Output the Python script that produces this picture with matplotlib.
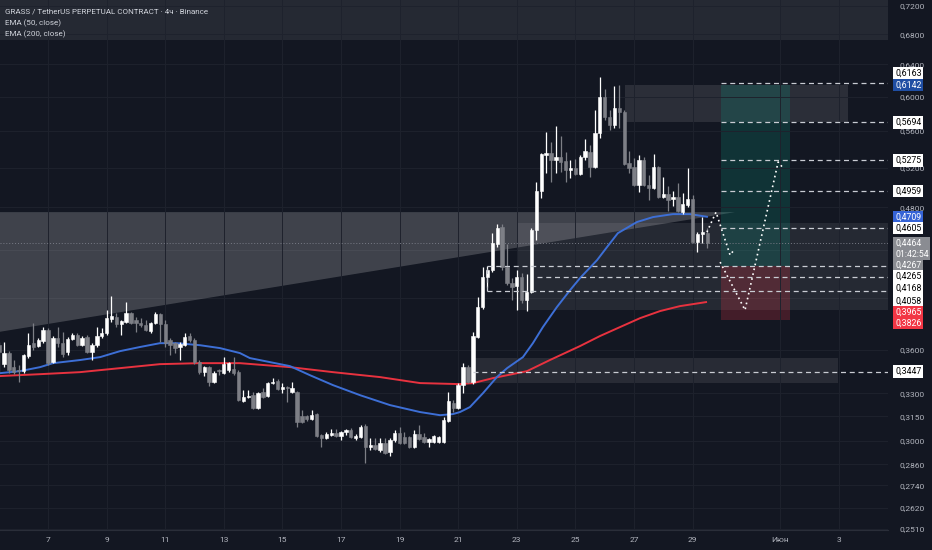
import numpy as np
import matplotlib
matplotlib.use('Agg')
import matplotlib.pyplot as plt
from matplotlib.patches import Rectangle, Polygon
from matplotlib.ticker import FixedLocator, FixedFormatter, NullLocator

plt.rcParams['font.family'] = ['Roboto', 'DejaVu Sans']

# --- candles, 4h, first one May 5 08:00 (x axis = day of May) ---
opens = [0.3635, 0.3499, 0.3578, 0.3478, 0.3457, 0.3450, 0.3556, 0.3650, 0.3629, 0.3665,
         0.3748, 0.3513, 0.3688, 0.3650, 0.3585, 0.3680, 0.3710, 0.3635, 0.3695, 0.3585,
         0.3635, 0.3703, 0.3725, 0.3832, 0.3847, 0.3793, 0.3808, 0.3878, 0.3824, 0.3800,
         0.3785, 0.3740, 0.3800, 0.3870, 0.3793, 0.3673, 0.3650, 0.3622, 0.3635, 0.3703,
         0.3673, 0.3513, 0.3443, 0.3478, 0.3375, 0.3457, 0.3436, 0.3457, 0.3464, 0.3443,
         0.3248, 0.3274, 0.3287, 0.3203, 0.3308, 0.3281, 0.3368, 0.3381, 0.3328, 0.3341,
         0.3308, 0.3308, 0.3151, 0.3151, 0.3132, 0.3164, 0.3033, 0.3015, 0.3033, 0.3045,
         0.3027, 0.3051, 0.3064, 0.3015, 0.3021, 0.3088, 0.2960, 0.2972, 0.2942, 0.2984,
         0.2930, 0.3002, 0.3045, 0.3021, 0.3021, 0.2960, 0.3039, 0.3021, 0.2990, 0.2990,
         0.2990, 0.2990, 0.3120, 0.3235, 0.3203, 0.3354, 0.3478, 0.3375, 0.3695, 0.3926,
         0.4170, 0.4229, 0.4457, 0.4612, 0.4255, 0.4120, 0.4095, 0.4170, 0.3981, 0.4046,
         0.4584, 0.4960, 0.5332, 0.5354, 0.5279, 0.5311, 0.5268, 0.5174, 0.5195, 0.5132,
         0.5311, 0.5365, 0.5205, 0.5574, 0.5994, 0.5757, 0.5665, 0.5862, 0.5815, 0.5247,
         0.5205, 0.5019, 0.5279, 0.5019, 0.4989, 0.5205, 0.4900, 0.4929, 0.4880, 0.4900,
         0.4753, 0.4821, 0.4880, 0.4475, 0.4548, 0.4557]
highs = [0.3658, 0.3658, 0.3592, 0.3528, 0.3492, 0.3570, 0.3725, 0.3800, 0.3688, 0.3770,
         0.3763, 0.3703, 0.3770, 0.3732, 0.3695, 0.3725, 0.3725, 0.3703, 0.3710, 0.3650,
         0.3770, 0.3763, 0.3902, 0.4014, 0.3878, 0.3824, 0.3965, 0.3886, 0.3847, 0.3839,
         0.3824, 0.3808, 0.3886, 0.3878, 0.3824, 0.3688, 0.3658, 0.3658, 0.3725, 0.3725,
         0.3688, 0.3528, 0.3485, 0.3485, 0.3450, 0.3464, 0.3549, 0.3513, 0.3549, 0.3457,
         0.3321, 0.3321, 0.3308, 0.3308, 0.3334, 0.3375, 0.3402, 0.3395, 0.3368, 0.3348,
         0.3375, 0.3314, 0.3190, 0.3158, 0.3190, 0.3170, 0.3039, 0.3051, 0.3070, 0.3070,
         0.3057, 0.3070, 0.3076, 0.3039, 0.3095, 0.3101, 0.3015, 0.3015, 0.3015, 0.3015,
         0.3015, 0.3064, 0.3082, 0.3051, 0.3027, 0.3064, 0.3095, 0.3045, 0.3015, 0.3033,
         0.3027, 0.3145, 0.3308, 0.3254, 0.3368, 0.3506, 0.3492, 0.3732, 0.4005, 0.4255,
         0.4264, 0.4556, 0.4640, 0.4640, 0.4457, 0.4162, 0.4229, 0.4203, 0.4195, 0.4603,
         0.5050, 0.5354, 0.5585, 0.5473, 0.5653, 0.5541, 0.5365, 0.5279, 0.5290, 0.5332,
         0.5507, 0.5440, 0.5839, 0.6240, 0.6091, 0.5839, 0.6128, 0.6139, 0.5839, 0.5376,
         0.5300, 0.5332, 0.5311, 0.5122, 0.5343, 0.5216, 0.5101, 0.5010, 0.4959, 0.5040,
         0.4939, 0.5195, 0.4919, 0.4566, 0.4706, 0.4603]
lows = [0.3436, 0.3478, 0.3436, 0.3429, 0.3375, 0.3436, 0.3542, 0.3600, 0.3622, 0.3650,
        0.3492, 0.3506, 0.3622, 0.3549, 0.3563, 0.3673, 0.3629, 0.3629, 0.3578, 0.3528,
        0.3622, 0.3688, 0.3710, 0.3808, 0.3770, 0.3710, 0.3800, 0.3793, 0.3732, 0.3770,
        0.3740, 0.3725, 0.3793, 0.3658, 0.3622, 0.3563, 0.3578, 0.3528, 0.3629, 0.3658,
        0.3499, 0.3429, 0.3416, 0.3348, 0.3368, 0.3422, 0.3429, 0.3443, 0.3422, 0.3248,
        0.3241, 0.3268, 0.3196, 0.3196, 0.3268, 0.3274, 0.3361, 0.3321, 0.3301, 0.3241,
        0.3301, 0.3082, 0.3107, 0.3120, 0.3126, 0.3021, 0.2960, 0.3009, 0.3027, 0.3021,
        0.3002, 0.3033, 0.3015, 0.3002, 0.3015, 0.2866, 0.2942, 0.2942, 0.2930, 0.2918,
        0.2907, 0.2990, 0.2978, 0.2978, 0.2954, 0.2954, 0.3002, 0.2984, 0.2960, 0.2984,
        0.2984, 0.2984, 0.3114, 0.3177, 0.3196, 0.3301, 0.3368, 0.3361, 0.3688, 0.3910,
        0.4087, 0.4212, 0.4430, 0.4229, 0.4103, 0.3981, 0.3902, 0.3957, 0.3894, 0.4038,
        0.4493, 0.4890, 0.5142, 0.5050, 0.5142, 0.5153, 0.5050, 0.5091, 0.5122, 0.5122,
        0.5279, 0.5101, 0.5195, 0.5518, 0.5722, 0.5608, 0.5631, 0.5631, 0.5225, 0.5142,
        0.5010, 0.4949, 0.5010, 0.4870, 0.4979, 0.4890, 0.4890, 0.4763, 0.4812, 0.4753,
        0.4734, 0.4802, 0.4466, 0.4386, 0.4466, 0.4421]
closes = [0.3585, 0.3578, 0.3457, 0.3443, 0.3450, 0.3563, 0.3635, 0.3622, 0.3673, 0.3748,
          0.3506, 0.3688, 0.3650, 0.3570, 0.3680, 0.3710, 0.3635, 0.3688, 0.3585, 0.3635,
          0.3703, 0.3725, 0.3839, 0.3855, 0.3793, 0.3816, 0.3878, 0.3800, 0.3800, 0.3785,
          0.3748, 0.3800, 0.3870, 0.3793, 0.3650, 0.3635, 0.3614, 0.3643, 0.3695, 0.3673,
          0.3513, 0.3443, 0.3478, 0.3375, 0.3436, 0.3450, 0.3499, 0.3506, 0.3436, 0.3254,
          0.3274, 0.3281, 0.3203, 0.3301, 0.3274, 0.3368, 0.3375, 0.3328, 0.3341, 0.3334,
          0.3334, 0.3114, 0.3114, 0.3132, 0.3158, 0.3027, 0.3015, 0.3039, 0.3045, 0.3027,
          0.3051, 0.3064, 0.3021, 0.3027, 0.3082, 0.2960, 0.2972, 0.2948, 0.2984, 0.2924,
          0.3002, 0.3045, 0.2984, 0.2984, 0.2960, 0.3039, 0.3009, 0.2990, 0.3009, 0.3027,
          0.3021, 0.3126, 0.3248, 0.3203, 0.3354, 0.3478, 0.3375, 0.3703, 0.3926, 0.4170,
          0.4229, 0.4466, 0.4603, 0.4255, 0.4120, 0.4087, 0.4170, 0.3981, 0.4046, 0.4584,
          0.4960, 0.5343, 0.5354, 0.5279, 0.5311, 0.5257, 0.5174, 0.5195, 0.5132, 0.5311,
          0.5376, 0.5205, 0.5574, 0.5994, 0.5757, 0.5665, 0.5862, 0.5815, 0.5236, 0.5195,
          0.5019, 0.5279, 0.5019, 0.4989, 0.5205, 0.4900, 0.4929, 0.4870, 0.4900, 0.4763,
          0.4831, 0.4880, 0.4475, 0.4548, 0.4566, 0.4464]

# EMA lines (day of May, price)
ema50_days = [5.36, 6.04, 6.73, 7.17, 8.09, 8.78, 9.46, 10.14, 10.82, 11.40, 12.19, 12.87,
              13.55, 13.89, 15.26, 15.94, 16.73, 17.65, 18.67, 19.70, 20.38, 20.82, 21.06,
              21.40, 21.85, 22.32, 22.67, 23.21, 23.55, 23.89, 24.37, 24.82, 25.16, 25.74,
              26.08, 26.45, 27.10, 27.65, 28.33, 28.91, 29.49]
ema50 = [0.3436, 0.3450, 0.3478, 0.3506, 0.3528, 0.3549, 0.3592, 0.3622, 0.3650, 0.3650,
         0.3635, 0.3614, 0.3578, 0.3542, 0.3485, 0.3422, 0.3354, 0.3287, 0.3222, 0.3177,
         0.3157, 0.3164, 0.3177, 0.3209, 0.3301, 0.3409, 0.3471, 0.3549, 0.3650, 0.3770,
         0.3926, 0.4062, 0.4162, 0.4315, 0.4430, 0.4556, 0.4659, 0.4706, 0.4734, 0.4734,
         0.4709]
ema200_days = [5.36, 6.73, 8.09, 9.46, 10.82, 12.19, 13.55, 15.26, 16.73, 18.33, 19.70,
               21.06, 21.51, 22.19, 23.35, 24.13, 25.16, 25.84, 26.52, 27.21, 27.89, 28.57,
               29.46]
ema200 = [0.3416, 0.3429, 0.3443, 0.3471, 0.3499, 0.3506, 0.3506, 0.3478, 0.3443, 0.3409,
          0.3368, 0.3361, 0.3368, 0.3402, 0.3450, 0.3528, 0.3629, 0.3703, 0.3770, 0.3839,
          0.3894, 0.3933, 0.3965]

# axis ticks (0.40 / 0.44 sit under the price labels, grid only)
price_ticks = [0.2510, 0.2620, 0.2740, 0.2860, 0.3000, 0.3150, 0.3300, 0.3600,
               0.4800, 0.5200, 0.5600, 0.6000, 0.6400, 0.6800, 0.7200]
hidden_ticks = [0.4000, 0.4400]
date_ticks = [7, 9, 11, 13, 15, 17, 19, 21, 23, 25, 27, 29, 32, 34]
date_labels = ['7', '9', '11', '13', '15', '17', '19', '21', '23', '25', '27', '29', 'Июн', '3']

# levels of the drawings
entry = 0.4267
target = 0.6142
stop = 0.3826
last_price = 0.4464
countdown = '01:42:54'

BG = '#131722'
UP = '#ffffff'
DOWN = '#7d7f86'
TXT = '#b2b5be'

days = 5 + 8 / 24 + np.arange(len(opens)) * 4 / 24
o = np.array(opens); c = np.array(closes)
h = np.array(highs); l = np.array(lows)
col = np.where(c >= o, UP, DOWN)

fig = plt.figure(figsize=(9.32, 5.5), dpi=100, facecolor=BG)
ax = fig.add_axes([0, 20 / 550, 888 / 932, 530 / 550])
ax.set_facecolor(BG)
ax.set_yscale('log')
ax.set_xlim(5.362, 35.67)
ax.set_ylim(0.2505, 0.7288)

ax.yaxis.set_major_locator(FixedLocator(price_ticks))
ax.yaxis.set_major_formatter(FixedFormatter([f'{v:.4f}'.replace('.', ',') for v in price_ticks]))
ax.yaxis.set_minor_locator(NullLocator())
ax.yaxis.tick_right()
ax.tick_params(axis='y', length=0, pad=8, labelsize=6, labelcolor=TXT)
ax.set_xticks(date_ticks)
ax.set_xticklabels(date_labels)
ax.tick_params(axis='x', length=0, pad=5, labelsize=6, labelcolor=TXT)
ax.grid(True, color='#1e222d', lw=0.7, zorder=0)
for v in hidden_ticks:
    ax.axhline(v, color='#1e222d', lw=0.7, zorder=0)
for s in ['top', 'left', 'right']:
    ax.spines[s].set_visible(False)
ax.spines['bottom'].set_color('#2a2e39')

# zones / shapes
ax.add_patch(Rectangle((5.0, 0.6723), 31, 0.1, color='white', alpha=0.08, lw=0, zorder=1))
ax.add_patch(Polygon([(5.0, 0.4753), (30.45, 0.4753), (5.0, 0.3722)], closed=True,
                     color='white', alpha=0.19, lw=0, zorder=1))
ax.add_patch(Rectangle((23.0, 0.3902), 13, 0.4650 - 0.3902, color='white', alpha=0.08, lw=0, zorder=1))
ax.add_patch(Rectangle((26.69, 0.5694), 34.30 - 26.69, 0.6142 - 0.5694, color='white', alpha=0.10, lw=0, zorder=1))
ax.add_patch(Rectangle((21.5, 0.3368), 33.96 - 21.5, 0.3543 - 0.3368, color='white', alpha=0.09, lw=0, zorder=1))

# long position tool
ax.add_patch(Rectangle((29.97, entry), 32.32 - 29.97, target - entry, color='#089981', alpha=0.22, lw=0, zorder=1.5))
ax.add_patch(Rectangle((29.97, stop), 32.32 - 29.97, entry - stop, color='#f23645', alpha=0.22, lw=0, zorder=1.5))

# EMAs
ax.plot(ema200_days, ema200, color='#e8323f', lw=1.4, zorder=3)
ax.plot(ema50_days, ema50, color='#3d6fd6', lw=1.4, zorder=3)

# candles
ax.vlines(days, l, h, colors=col, lw=0.9, zorder=4)
ax.bar(days, np.abs(c - o), bottom=np.minimum(o, c), width=0.115, color=col,
       edgecolor=col, linewidth=0.4, zorder=5)

# horizontal levels
dash = dict(color='#c9ccd3', lw=0.9, ls=(0, (4, 3)), zorder=6)
for lvl in [0.6163, 0.5694, 0.5275, 0.4959, 0.4605]:
    ax.plot([29.97, 36], [lvl, lvl], **dash)
ax.plot([21.98, 36], [0.4267, 0.4267], **dash)
ax.plot([23.69, 36], [0.4168, 0.4168], **dash)
ax.plot([21.98, 36], [0.4058, 0.4058], **dash)
ax.plot([21.98, 21.98], [0.4058, 0.4267], **dash)
ax.plot([21.5, 36], [0.3447, 0.3447], **dash)
ax.axhline(last_price, color='#787b86', lw=0.7, ls=(0, (1, 2)), zorder=2)

# projected path
dots = dict(color='white', lw=1.2, ls=(0, (1, 2)), zorder=6)
ax.plot([29.49, 29.80, 30.28, 30.41], [0.4566, 0.4753, 0.4359, 0.4403], **dots)
ax.plot([29.94, 30.79, 31.92, 32.12], [0.4298, 0.3902, 0.5258, 0.5184], **dots)

# price labels on the scale
tr = ax.get_yaxis_transform()
labels = [
    (0.6163, '0,6163', 'white', 'black', 10),
    (0.6142, '0,6142', '#1f4ea3', 'white', 0),
    (0.5694, '0,5694', 'white', 'black', 0),
    (0.5275, '0,5275', 'white', 'black', 0),
    (0.4959, '0,4959', 'white', 'black', 0),
    (0.4709, '0,4709', '#3563d6', 'white', 0),
    (0.4605, '0,4605', 'white', 'black', 0),
    (last_price, '0,4464\n' + countdown, '#8a8c92', 'white', -5.5),
    (entry, '0,4267', '#8a8c92', 'white', 0),
    (0.4265, '0,4265', 'white', 'black', -10),
    (0.4168, '0,4168', 'white', 'black', -11),
    (0.4058, '0,4058', 'white', 'black', -10.5),
    (0.3965, '0,3965', '#f23645', 'white', -10),
    (stop, '0,3826', '#f23645', 'white', -3),
    (0.3447, '0,3447', 'white', 'black', 0),
]
for val, txt, bg, fg, dy in labels:
    ax.annotate(txt, xy=(1, val), xycoords=tr, xytext=(7, dy), textcoords='offset pixels',
                ha='left', va='center', fontsize=6.3, color=fg, annotation_clip=False,
                linespacing=1.25, zorder=10,
                bbox=dict(boxstyle='square,pad=0.2', fc=bg, ec='none'))

# legend
fig.text(5 / 932, 1 - 11 / 550, 'GRASS / TetherUS PERPETUAL CONTRACT · 4ч · Binance',
         fontsize=5.8, color='#d1d4dc', va='center')
fig.text(5 / 932, 1 - 23 / 550, 'EMA (50, close)', fontsize=5.8, color='#d1d4dc', va='center')
fig.text(5 / 932, 1 - 34 / 550, 'EMA (200, close)', fontsize=5.8, color='#d1d4dc', va='center')

fig.savefig('out.png', dpi=100, facecolor=BG)
